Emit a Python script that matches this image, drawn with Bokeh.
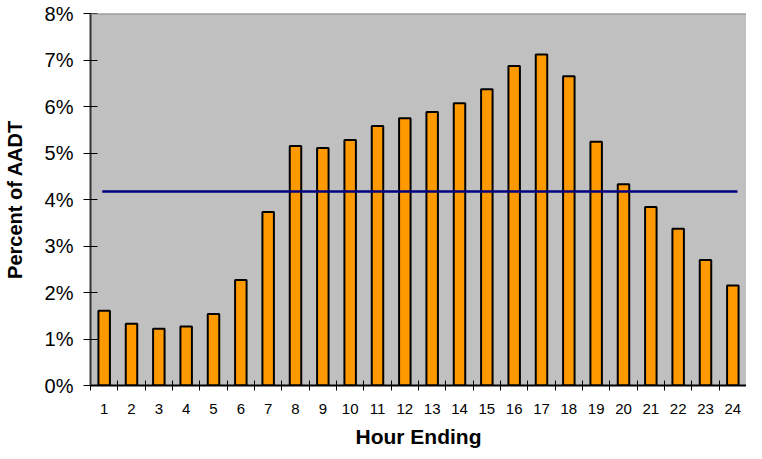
from bokeh.plotting import figure
from bokeh.models import FixedTicker, PrintfTickFormatter, Range1d, Span, ColumnDataSource
from bokeh.embed import file_html
from bokeh.resources import INLINE

# Data
hours = list(range(1, 25))
hour_labels = [str(h) for h in hours]
pct_aadt = [1.61, 1.33, 1.22, 1.27, 1.54, 2.27, 3.73, 5.15, 5.11, 5.28, 5.58, 5.75,
            5.88, 6.07, 6.37, 6.87, 7.12, 6.65, 5.24, 4.33, 3.84, 3.37, 2.70, 2.15]
average_pct = 4.17
avg_line_x = [0.93, 24.17]
y_ticks = [0, 1, 2, 3, 4, 5, 6, 7, 8]

FONT = "Liberation Sans"

p = figure(width=746, height=450, output_backend="svg", toolbar_location=None,
           x_range=Range1d(0.5, 24.5), y_range=Range1d(0, 8),
           min_border_left=90, min_border_top=13, min_border_right=0, min_border_bottom=64)

p.background_fill_color = "#C0C0C0"
p.border_fill_color = "white"
p.outline_line_color = None
p.grid.grid_line_color = None

src = ColumnDataSource(dict(x=hours, top=pct_aadt))
p.vbar(x="x", top="top", bottom=0, width=0.42, source=src,
       fill_color="#FF9900", line_color="black", line_width=2)

p.line(x=avg_line_x, y=[average_pct, average_pct], line_color="#000080", line_width=2.5)

p.add_layout(Span(location=8, dimension="width", line_color="#8C8C8C", line_width=2))

# X axis
xa = p.xaxis[0]
xa.ticker = FixedTicker(ticks=hours, minor_ticks=[h - 0.5 for h in hours])
xa.major_label_overrides = {h: lab for h, lab in zip(hours, hour_labels)}
xa.major_tick_in = 0
xa.major_tick_out = 0
xa.minor_tick_in = 5
xa.minor_tick_out = 5
xa.minor_tick_line_color = "black"
xa.minor_tick_line_width = 1
xa.axis_line_color = "black"
xa.axis_line_width = 2
xa.major_label_standoff = 13
xa.major_label_text_font = FONT
xa.major_label_text_font_size = "15px"
xa.major_label_text_color = "black"
xa.axis_label = "Hour Ending"
xa.axis_label_text_font = FONT
xa.axis_label_text_font_style = "bold"
xa.axis_label_text_font_size = "21px"
xa.axis_label_text_color = "black"
xa.axis_label_standoff = 8

# Y axis
ya = p.yaxis[0]
ya.ticker = FixedTicker(ticks=y_ticks)
ya.formatter = PrintfTickFormatter(format="%d%%")
ya.major_tick_in = 7
ya.major_tick_out = 7
ya.major_tick_line_color = "black"
ya.minor_tick_line_color = None
ya.axis_line_color = "#333333"
ya.axis_line_width = 2
ya.major_label_standoff = 10
ya.major_label_text_font = FONT
ya.major_label_text_font_size = "20px"
ya.major_label_text_color = "black"
ya.axis_label = "Percent of AADT"
ya.axis_label_text_font = FONT
ya.axis_label_text_font_style = "bold"
ya.axis_label_text_font_size = "20px"
ya.axis_label_text_color = "black"
ya.axis_label_standoff = 16

open("out.html", "w").write(file_html(p, INLINE))
